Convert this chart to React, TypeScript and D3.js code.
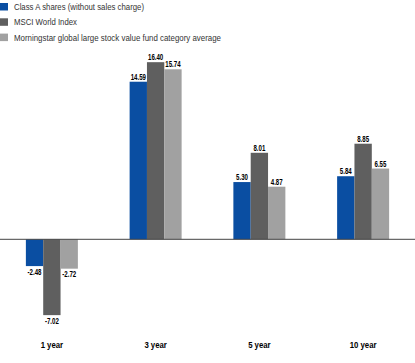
import React from "react";
import * as d3 from "d3";

const categories = ["1 year", "3 year", "5 year", "10 year"];
const seriesNames = [
  "Class A shares (without sales charge)",
  "MSCI World Index",
  "Morningstar global large stock value fund category average",
];
const classA = [-2.48, 14.59, 5.3, 5.84];
const msci = [-7.02, 16.4, 8.01, 8.85];
const morningstar = [-2.72, 15.74, 4.87, 6.55];
const colors = ["#0a4ea2", "#5f5f5f", "#a1a1a1"];
const legendTextWidths = [130, 63, 207];

const W = 415;
const H = 363;
const FONT = "'Liberation Sans', Arial, sans-serif";

export default function App() {
  const series = [classA, msci, morningstar];
  const x0 = d3.scaleBand<string>().domain(categories).range([0, W]);
  const groupW = 52;
  const x1 = d3.scaleBand<number>().domain([0, 1, 2]).range([0, groupW]);
  const y = d3.scaleLinear().domain([-10, 20]).range([347.3, 23.3]);
  const y0 = y(0);
  const fmt = (v: number) => d3.format(".2f")(v).replace("\u2212", "-");

  return (
    <svg
      width={W}
      height={H}
      style={{ position: "absolute", left: 0, top: 0, background: "#fff" }}
    >
      {seriesNames.map((name, i) => (
        <g key={name} transform={`translate(0, ${3 + i * 15.3})`}>
          <rect x={0} y={0} width={8} height={7.5} fill={colors[i]} />
          <text
            x={14}
            y={7}
            fontFamily={FONT}
            fontSize={8.6}
            fill="#333"
            textLength={legendTextWidths[i]}
            lengthAdjust="spacingAndGlyphs"
          >
            {name}
          </text>
        </g>
      ))}
      {categories.map((cat, ci) => {
        const gx = (x0(cat) ?? 0) + (x0.bandwidth() - groupW) / 2;
        return (
          <g key={cat}>
            {series.map((s, si) => {
              const v = s[ci];
              const bx = gx + (x1(si) ?? 0);
              const top = Math.min(y(v), y0);
              const h = Math.abs(y(v) - y0);
              const cx = bx + x1.bandwidth() / 2;
              const ly = v >= 0 ? y(v) - 2 : y(v) + 8.5;
              return (
                <g key={si}>
                  <rect x={bx} y={top} width={x1.bandwidth()} height={h} fill={colors[si]} />
                  <text
                    transform={`translate(${cx},${ly}) scale(0.72,1)`}
                    textAnchor="middle"
                    fontFamily={FONT}
                    fontWeight="bold"
                    fontSize={8.5}
                    fill="#000"
                  >
                    {fmt(v)}
                  </text>
                </g>
              );
            })}
            <text
              transform={`translate(${(x0(cat) ?? 0) + x0.bandwidth() / 2},348) scale(0.82,1)`}
              textAnchor="middle"
              fontFamily={FONT}
              fontWeight="bold"
              fontSize={9.5}
              fill="#000"
            >
              {cat}
            </text>
          </g>
        );
      })}
      <line x1={0} x2={W} y1={y0} y2={y0} stroke="#444" strokeWidth={1} />
    </svg>
  );
}
